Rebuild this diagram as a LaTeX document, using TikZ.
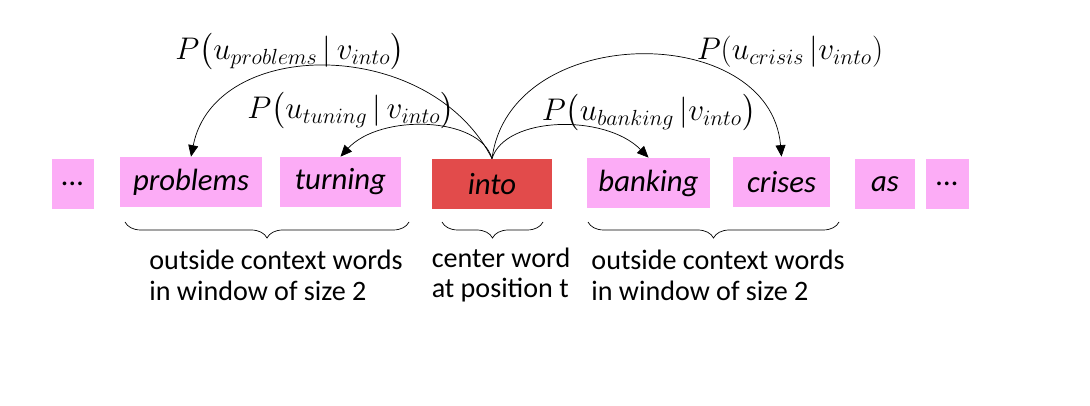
\RequirePackage{fix-cm}
\documentclass[tikz,border=0pt]{standalone}
\usepackage{amsmath}
\usepackage{fontspec}
\setmainfont{Carlito}
\usepackage{tikz}
\usetikzlibrary{arrows.meta, positioning, calc, decorations.pathreplacing}
\definecolor{ctxpink}{RGB}{252,172,246}
\definecolor{centerred}{RGB}{226,75,75}

\begin{document}
\begin{tikzpicture}[
    font=\fontsize{16}{17.5}\selectfont,
    word/.style={fill=ctxpink, minimum height=1.0cm, inner sep=0pt, font=\fontsize{17.5}{19}\selectfont\itshape},
    centerword/.style={word, fill=centerred},
    prob/.style={inner sep=0pt, font=\fontsize{17.8}{20}\selectfont},
    note/.style={align=left, font=\fontsize{16}{17.5}\selectfont},
    wbrace/.style={decorate, decoration={brace, mirror, amplitude=0.32cm}, thin},
    arr/.style={-{Triangle[length=2.3mm, width=2mm]}, thin},
]
\useasboundingbox (0,0) rectangle (21.8,8.12);

% Sentence (one box per word)
\node[word, minimum width=0.84cm] (dotsl)    at (1.46,4.44)  {...};
\node[word, minimum width=2.84cm] (problems) at (3.82,4.48)  {problems};
\node[word, minimum width=2.42cm] (turning)  at (6.81,4.48)  {turning};
\node[centerword, minimum width=2.40cm] (into) at (9.84,4.44) {into};
\node[word, minimum width=2.46cm] (banking)  at (12.97,4.46) {banking};
\node[word, minimum width=1.94cm] (crises)   at (15.63,4.48) {crises};
\node[word, minimum width=1.20cm] (as)       at (17.70,4.44) {as};
\node[word, minimum width=0.86cm] (dotsr)    at (18.95,4.44) {...};

% Probabilities
\node[prob] (pprob) at (5.80,7.08)  {$P\bigl(u_{problems}\,|\,v_{into}\bigr)$};
\node[prob] (ptun)  at (7.02,5.90)  {$P\bigl(u_{tuning}\,|\,v_{into}\bigr)$};
\node[prob] (pban)  at (12.98,5.86) {$P\bigl(u_{banking}\,|v_{into}\bigr)$};
\node[prob] (pcri)  at (15.80,7.08) {$P(u_{crisis}\,|v_{into})$};

% Arcs from the center word
\draw[arr] (into.north) .. controls (8.6,7.4) and (4.3,7.4) .. (problems.north);
\draw[arr] (into.north) .. controls (9.6,5.8) and (7.6,5.85) .. (turning.north);
\draw[arr] (into.north) .. controls (10.1,5.8) and (12.1,5.85) .. (banking.north);
\draw[arr] (into.north) .. controls (10.2,7.7) and (15.4,7.7) .. (crises.north);

% Windows
\coordinate (bl1) at (2.50,3.68);  \coordinate (bl2) at (8.18,3.68);
\coordinate (bc1) at (8.84,3.68);  \coordinate (bc2) at (10.86,3.68);
\coordinate (br1) at (11.76,3.68); \coordinate (br2) at (16.78,3.68);
\draw[wbrace] (bl1) -- (bl2);
\draw[wbrace] (bc1) -- (bc2);
\draw[wbrace] (br1) -- (br2);

\node[note] (ctxl) at (5.52,2.62)  {outside context words\\in window of size 2};
\node[note] (ctrw) at (10.02,2.62) {center word\\at position t};
\node[note] (ctxr) at (14.36,2.62) {outside context words\\in window of size 2};
\end{tikzpicture}
\end{document}
